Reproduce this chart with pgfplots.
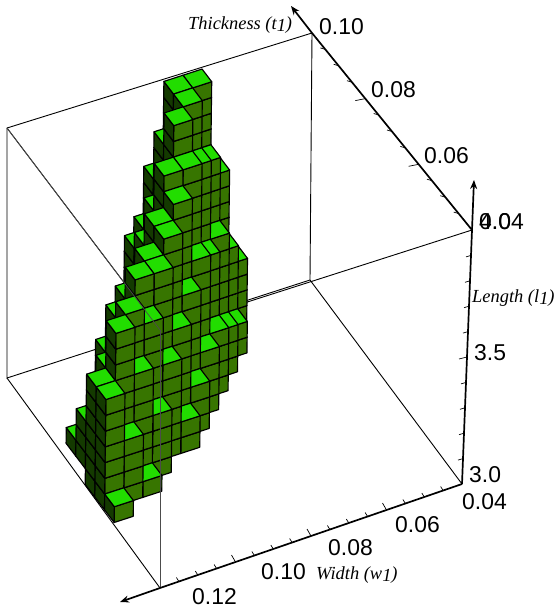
\documentclass[border=0pt]{standalone}
\usepackage{pgfplots}
\pgfplotsset{compat=1.18}
\usepackage{fontspec}
\setmainfont{Liberation Sans}
\newfontfamily\serifit{Liberation Serif}
\usetikzlibrary{arrows.meta}
\definecolor{vtop}{HTML}{22DD00}
\definecolor{vfront}{HTML}{377500}
\definecolor{vside}{HTML}{143A00}
\def\voxcube{%
 \path[draw=black,line width=1.15bp,line join=round,fill=vfront] (0bp,0bp)--(19.1bp,6.2bp)--(19.3bp,21.95bp)--(.2bp,15.75bp)--cycle;%
 \path[draw=black,line width=1.15bp,line join=round,fill=vside] (0bp,0bp)--(.2bp,15.75bp)--(-9.45bp,28.45bp)--(-9.65bp,12.7bp)--cycle;%
 \path[draw=black,line width=1.15bp,line join=round,fill=vtop] (.2bp,15.75bp)--(19.3bp,21.95bp)--(9.65bp,34.65bp)--(-9.45bp,28.45bp)--cycle;%
}
\pgfdeclareplotmark{voxstack}{%
 \pgfplotsforeachungrouped \q in {1,...,\vn}{\voxcube\pgftransformshift{\pgfqpoint{.2bp}{15.75bp}}}%
}
\pgfplotsset{pix/.style={hide axis,scale only axis,width=557bp,height=609bp,xmin=0,xmax=557,ymin=0,ymax=609,y dir=reverse,at={(0,0)},anchor=south west,clip=false,unbounded coords=jump}}
\newcommand\ticklab[1]{\fontsize{23}{23}\selectfont #1}
\newcommand\axlab[1]{\serifit\itshape\fontsize{18.5}{18.5}\selectfont #1}
\begin{document}
\begin{tikzpicture}
% frame behind the cubes
\begin{axis}[pix]
\addplot[black,line width=.9bp] coordinates {(310,280)(312,33)(7,128)(7,378)(310,280)(462,484)};
\addplot[black,line width=.9bp] coordinates {(7,378)(160,588)};
\addplot[black,line width=.9bp] coordinates {(7,128)(160,330)};
\addplot[black,line width=.9bp] coordinates {(160,330)(472,230)};
\addplot[black,line width=.9bp] coordinates {(160,330)(160,588)};
\end{axis}
% cubes: w, t, l of the front lower corner of a column, n cubes high
\begin{axis}[hide axis,x={(-3818.75bp,-1237.5bp)},y={(-2575bp,3383.33bp)},z={(3bp,252bp)},
 xmin=.04,xmax=.12,ymin=.04,ymax=.1,zmin=3,zmax=4,clip=false,at={(6bp,25.6bp)},anchor=south west]
\addplot3[scatter,only marks,mark=voxstack,point meta=\thisrow{n},scatter/use mapped color={draw=black},
 visualization depends on={\thisrow{n}\as\vn}] table[x=w,y=t,z=l] {
w t l n
.065 .0955 3 4
.07 .0955 3 10
.075 .0955 3 16
.08 .0955 3 16
.085 .0955 3 11
.07 .09175 3 6
.075 .09175 3 12
.08 .09175 3 16
.085 .09175 3 14
.09 .09175 3 9
.07 .088 3 2
.075 .088 3 8
.08 .088 3 13
.085 .088 3 16
.09 .088 3 11
.095 .088 3 9
.075 .08425 3 3
.08 .08425 3 8
.085 .08425 3 14
.09 .08425 3 14
.095 .08425 3 10
.08 .0805 3 4
.085 .0805 3 9
.09 .0805 3 13
.095 .0805 3 12
.1 .0805 3 8
.085 .07675 3 4
.09 .07675 3 8
.095 .07675 3 12
.1 .07675 3 11
.105 .07675 3 9
.11 .07675 3 6
.09 .073 3 3
.095 .073 3 7
.1 .073 3 11
.105 .073 3 11
.11 .073 3 9
.12 .073 3.0625 1
.095 .06925 3 2
.1 .06925 3 6
.105 .06925 3 9
.11 .06925 3 10
.115 .06925 3 7
.12 .06925 3.0625 3
.105 .0655 3 4
.11 .0655 3 7
.115 .0655 3 10
.12 .0655 3 7
.11 .06175 3 1
.115 .06175 3 4
.12 .06175 3 7
.12 .058 3 1
};
\end{axis}
% lines in front, axes, ticks, labels
\begin{axis}[pix]
\addplot[black!70,line width=.7bp] coordinates {(160,330)(160,588)};
\addplot[black!70,line width=.7bp] coordinates {(7,128)(160,330)};
\addplot[black,line width=1.7bp,-{Stealth[length=9bp,width=7bp]}] coordinates {(462,484)(160,588)(120,602)};
\addplot[black,line width=1.7bp,-{Stealth[length=9bp,width=7bp]}] coordinates {(462,484)(472,230)(474,180)};
\addplot[black,line width=1.7bp,-{Stealth[length=9bp,width=7bp]}] coordinates {(472,230)(312,33)(291,6)};
\addplot[black,line width=.7bp] coordinates {
(443.1,490.5)(440.6,486.5)(nan,nan)(424.3,497)(421.8,493)(nan,nan)(405.4,503.5)(402.9,499.5)(nan,nan)(386.5,510)(382.5,503)(nan,nan)
(367.6,516.5)(365.1,512.5)(nan,nan)(348.8,523)(346.3,519)(nan,nan)(329.9,529.5)(327.4,525.5)(nan,nan)(311,536)(307,529)(nan,nan)
(292.1,542.5)(289.6,538.5)(nan,nan)(273.3,549)(270.8,545)(nan,nan)(254.4,555.5)(251.9,551.5)(nan,nan)(235.5,562)(231.5,555)(nan,nan)
(216.6,568.5)(214.1,564.5)(nan,nan)(197.8,575)(195.3,571)(nan,nan)(178.9,581.5)(176.4,577.5)(nan,nan)
(463,458.6)(458,460.1)(nan,nan)(464,433.2)(459,434.7)(nan,nan)(465,407.8)(460,409.3)(nan,nan)(466,382.4)(461,383.9)(nan,nan)
(467,357)(459,359)(nan,nan)(468,331.6)(463,333.1)(nan,nan)(469,306.2)(464,307.7)(nan,nan)(470,280.8)(465,282.3)(nan,nan)(471,255.4)(466,256.9)(nan,nan)
(458.7,213.6)(453.7,212.1)(nan,nan)(445.3,197.2)(440.3,195.7)(nan,nan)(432,180.7)(427,179.2)(nan,nan)(418.7,164.3)(408.7,166.3)(nan,nan)
(405.3,147.9)(400.3,146.4)(nan,nan)(392,131.5)(387,130)(nan,nan)(378.7,115)(373.7,113.5)(nan,nan)(365.3,98.6)(355.3,100.6)(nan,nan)
(352,82.2)(347,80.7)(nan,nan)(338.7,65.8)(333.7,64.3)(nan,nan)(325.3,49.4)(320.3,47.9)
};
\node[anchor=west,inner sep=0] at (axis cs:462,502) {\ticklab{0.04}};
\node[anchor=west,inner sep=0] at (axis cs:395,525) {\ticklab{0.06}};
\node[anchor=west,inner sep=0] at (axis cs:328,548) {\ticklab{0.08}};
\node[anchor=west,inner sep=0] at (axis cs:261,572) {\ticklab{0.10}};
\node[anchor=west,inner sep=0] at (axis cs:192,597) {\ticklab{0.12}};
\node[anchor=west,inner sep=0] at (axis cs:469,475) {\ticklab{3.0}};
\node[anchor=west,inner sep=0] at (axis cs:474,353) {\ticklab{3.5}};
\node[anchor=west,inner sep=0] at (axis cs:479,222) {\ticklab{4.0}};
\node[anchor=west,inner sep=0] at (axis cs:479,222) {\ticklab{0.04}};
\node[anchor=west,inner sep=0] at (axis cs:424,156) {\ticklab{0.06}};
\node[anchor=west,inner sep=0] at (axis cs:371,90) {\ticklab{0.08}};
\node[anchor=west,inner sep=0] at (axis cs:319,27) {\ticklab{0.10}};
\node[anchor=west,inner sep=0] at (axis cs:188,25) {\axlab{Thickness (t\raisebox{-2bp}{1})}};
\node[anchor=west,inner sep=0] at (axis cs:472,298) {\axlab{Length (l\raisebox{-2bp}{1})}};
\node[anchor=west,inner sep=0] at (axis cs:316,575) {\axlab{Width (w\raisebox{-2bp}{1})}};
\coordinate (BL) at (axis cs:0,609);
\coordinate (TR) at (axis cs:557,0);
\end{axis}
\pgfresetboundingbox
\path[use as bounding box] (BL) rectangle (TR);
\end{tikzpicture}
\end{document}
